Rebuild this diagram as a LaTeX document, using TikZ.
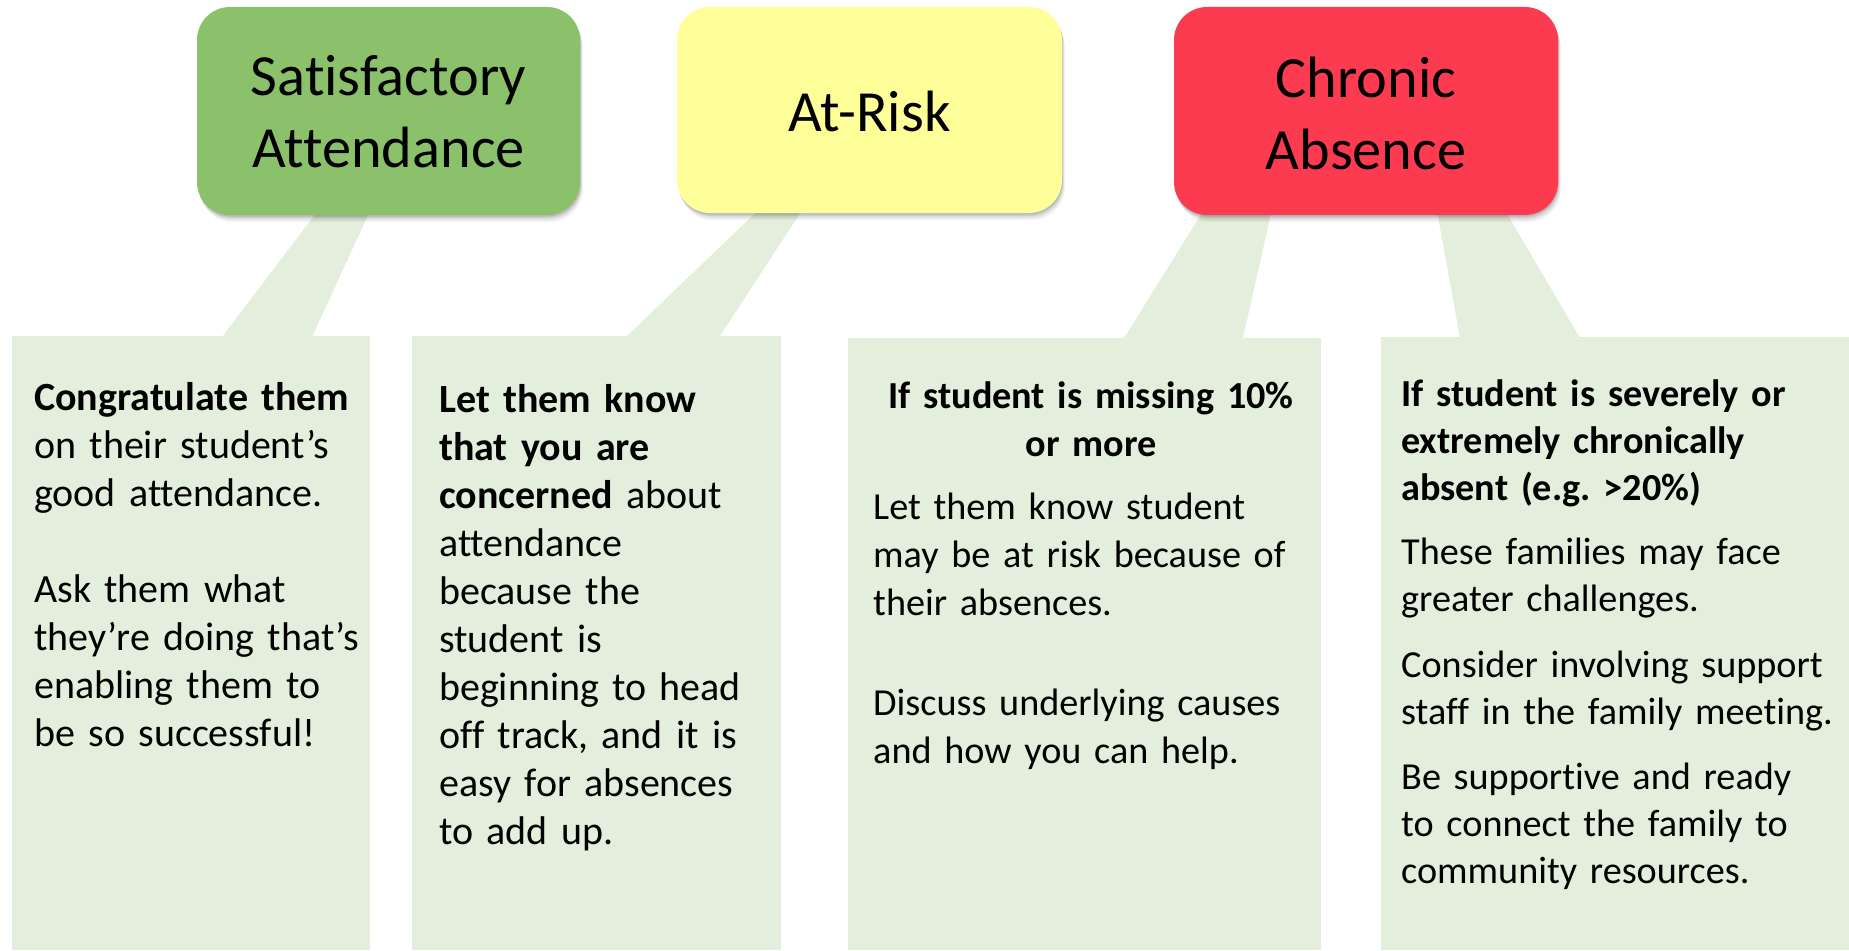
\documentclass[tikz,border=0pt]{standalone}
\usepackage{fontspec}
\setmainfont{Carlito}[Ligatures={TeX,NoCommon}]
\frenchspacing
\definecolor{boxgreen}{RGB}{139,193,106}
\definecolor{boxyellow}{RGB}{255,255,153}
\definecolor{boxred}{RGB}{252,58,80}
\definecolor{panelgreen}{RGB}{227,239,220}
\begin{document}
\begin{tikzpicture}[x=1pt,y=-1pt,
  titletext/.style={font=\fontsize{58.3}{72}\selectfont, text width=380pt, align=center, inner sep=0pt, anchor=base},
  bodytext/.style={font=\fontsize{40}{48}\selectfont, text width=460pt, align=left, inner sep=0pt, anchor=base west},
  bodysmall/.style={font=\fontsize{38.2}{48}\selectfont, text width=460pt, align=left, inner sep=0pt, anchor=base west},
  bodytight/.style={font=\fontsize{38.2}{47}\selectfont, text width=460pt, align=left, inner sep=0pt, anchor=base west},
  panel/.style={fill=panelgreen, draw=none},
  stem/.style={fill=panelgreen, draw=none},
  catbox/.style={rounded corners=33pt, draw=none}
]
\useasboundingbox (0,0) rectangle (1849,950);

% panels
\fill[panel] (12,336) rectangle (370,950);
\fill[panel] (412,336) rectangle (781,950);
\fill[panel] (848,338) rectangle (1321,950);
\fill[panel] (1381,337) rectangle (1849,950);

% stems joining boxes to panels
\fill[stem] (326,200) -- (375,200) -- (312,337) -- (222,337) -- cycle;
\fill[stem] (771,198) -- (810,198) -- (720,336) -- (627,336) -- cycle;
\fill[stem] (1210,200) -- (1274,200) -- (1243,338) -- (1124,338) -- cycle;
\fill[stem] (1435,200) -- (1499,200) -- (1580,338) -- (1460,338) -- cycle;

% soft shadows
\foreach \s/\o in {7/0.05,5/0.07,3/0.09,1.5/0.10} {
  \fill[black, opacity=\o, rounded corners=33pt] (197+0.4*\s,7+\s) rectangle (580+0.4*\s,215+\s);
  \fill[black, opacity=\o, rounded corners=33pt] (677+0.4*\s,7+\s) rectangle (1062+0.4*\s,213+\s);
  \fill[black, opacity=\o, rounded corners=33pt] (1174+0.4*\s,7+\s) rectangle (1558+0.4*\s,215+\s);
}

% category boxes
\fill[catbox, boxgreen] (197,7) rectangle (580,215);
\fill[catbox, boxyellow] (677,7) rectangle (1062,213);
\fill[catbox, boxred] (1174,7) rectangle (1558,215);

\node[titletext] (tsat) at (388.5,95) {Satisfactory\\Attendance};
\node[titletext] (trisk) at (869.5,131) {At-Risk};
\node[titletext] (tchr) at (1366,97) {Chronic\\Absence};

% panel 1
\node[bodytext] (p1a) at (34,410) {\textbf{Congratulate them}\\on their student’s\\good attendance.};
\node[bodytext] (p1b) at (34,602) {Ask them what\\they’re doing that’s\\enabling them to\\be so successful!};

% panel 2
\node[bodytext] (p2a) at (439,412) {\textbf{Let them know}\\\textbf{that you are}\\\textbf{concerned} about\\attendance\\because the\\student is\\beginning to head\\off track, and it is\\easy for absences\\to add up.};

% panel 3
\node[font=\fontsize{38.2}{48}\selectfont\bfseries, text width=460pt, align=center, inner sep=0pt, anchor=base] (p3h) at (1091,408) {If student is missing 10\%\\or more};
\node[bodysmall] (p3a) at (873,519) {Let them know student\\may be at risk because of\\their absences.};
\node[bodysmall] (p3b) at (873,715) {Discuss underlying causes\\and how you can help.};

% panel 4
\node[bodytight] (p4h) at (1401,406) {\textbf{If student is severely or}\\\textbf{extremely chronically}\\\textbf{absent (e.g. >20\%)}};
\node[bodytight] (p4a) at (1401,564) {These families may face\\greater challenges.};
\node[bodytight] (p4b) at (1401,677) {Consider involving support\\staff in the family meeting.};
\node[bodytight] (p4c) at (1401,789) {Be supportive and ready\\to connect the family to\\community resources.};
\end{tikzpicture}
\end{document}
